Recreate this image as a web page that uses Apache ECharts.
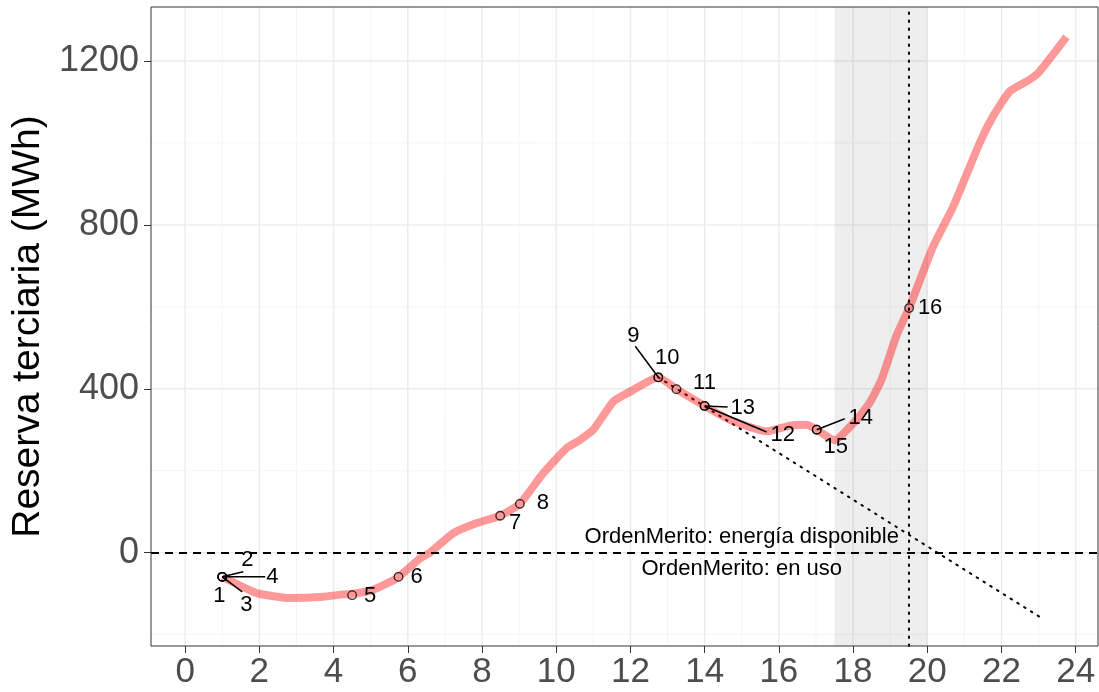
<!DOCTYPE html>
<html>
<head>
<meta charset="utf-8">
<script src="https://cdn.jsdelivr.net/npm/echarts@6/dist/echarts.min.js"></script>
<style>
html,body{margin:0;padding:0;background:#fff;}
#chart{width:1099px;height:692px;}
</style>
</head>
<body>
<div id="chart"></div>
<script>
// ---- data ----
const lineX = [1.0, 1.93, 2.83, 3.72, 4.26, 4.5, 5.06, 5.70, 6.33, 6.60, 7.22, 7.86, 8.49, 9.02, 9.65, 10.28, 10.64, 11.0, 11.54, 11.99, 12.75, 13.24, 14.0, 14.68, 15.67, 16.3, 16.75, 17.02, 17.5, 18.09, 18.45, 18.77, 19.17, 19.51, 20.16, 20.70, 21.41, 21.77, 22.22, 22.76, 23.03, 23.75];
const lineY = [-59, -99, -111, -108, -102, -101, -91, -63, -14, 0, 47, 72, 90, 119, 194, 255, 275, 300, 369, 393, 428, 399, 358, 324, 296, 310, 312, 300, 274, 324, 366, 423, 530, 597, 748, 845, 1000, 1065, 1126, 1155, 1175, 1259];

const pointLabels = ['1','2','3','4','5','6','7','8','9','10','11','12','13','14','15','16'];
const pointX = [1.0, 1.0, 1.0, 1.0, 4.5, 5.75, 8.49, 9.02, 12.75, 12.75, 13.24, 14.0, 14.0, 17.02, 17.02, 19.51];
const pointY = [-59, -59, -59, -59, -104, -59, 90, 119, 428, 428, 399, 358, 358, 300, 300, 597];

const trendX = [12.75, 23.03];
const trendY = [428, -157];

const vlineX = 19.5;
const bandX = [17.5, 20];
const hlineY = 0;

const annTexts = ['OrdenMerito: energía disponible', 'OrdenMerito: en uso'];
const annX = [15, 15];
const annY = [39, -40];

const xTicks = [0, 2, 4, 6, 8, 10, 12, 14, 16, 18, 20, 22, 24];
const xMinor = [1, 3, 5, 7, 9, 11, 13, 15, 17, 19, 21, 23];
const yTicks = [0, 400, 800, 1200];
const yMinor = [-200, 200, 600, 1000];

const xRange = [-0.92, 24.6];
const yRange = [-228, 1332];

// ---- styles (pixel offsets of repelled labels, and segment ends) ----
const labelOffsets = [[-3,19],[25,-17],[24,28],[50,0],[18,1],[18,0],[15,7],[23,-1],[-25,-41],[9,-19],[28,-6],[78,29],[38,2],[44,-12],[19,17],[21,0]];
const segEnds = [null,[21,-5],[20,15],[43,0],null,null,null,null,[-23,-31],null,null,[62,26],[23,1],[28,-11],null,null];

const FONT = '"Liberation Sans", Arial, Helvetica, sans-serif';

const chart = echarts.init(document.getElementById('chart'), null, {renderer: 'canvas'});

function gridRender(isX, major) {
  return function (params, api) {
    const cs = params.coordSys;
    const v = api.value(0);
    let p;
    const st = {stroke: major ? '#EBEBEB' : '#F2F2F2', lineWidth: major ? 1.4 : 0.8};
    if (isX) {
      p = api.coord([v, yRange[0]]);
      return {type: 'line', shape: {x1: p[0], y1: cs.y, x2: p[0], y2: cs.y + cs.height}, style: st};
    } else {
      p = api.coord([xRange[0], v]);
      return {type: 'line', shape: {x1: cs.x, y1: p[1], x2: cs.x + cs.width, y2: p[1]}, style: st};
    }
  };
}

const option = {
  backgroundColor: '#ffffff',
  animation: false,
  grid: {left: 151, right: 1, top: 7, bottom: 46, containLabel: false, outerBoundsMode: 'none',
    show: true, borderColor: '#333333', borderWidth: 1, backgroundColor: 'transparent', z: 10},
  xAxis: {
    type: 'value', min: xRange[0], max: xRange[1],
    axisLine: {show: false, onZero: false},
    splitLine: {show: false},
    axisTick: {show: true, length: 7, lineStyle: {color: '#333333', width: 1}, customValues: xTicks},
    axisLabel: {customValues: xTicks, formatter: v => String(v), fontSize: 35, color: '#4D4D4D', fontFamily: FONT, margin: 9}
  },
  yAxis: {
    type: 'value', min: yRange[0], max: yRange[1],
    name: 'Reserva terciaria (MWh)', nameLocation: 'middle', nameGap: 84, nameRotate: 90,
    nameTextStyle: {fontSize: 39, color: '#000000', fontFamily: FONT},
    axisLine: {show: false, onZero: false},
    splitLine: {show: false},
    axisTick: {show: true, length: 7, lineStyle: {color: '#333333', width: 1}, customValues: yTicks},
    axisLabel: {customValues: yTicks, formatter: v => String(v), fontSize: 36, color: '#4D4D4D', fontFamily: FONT, margin: 12}
  },
  series: [
    {type: 'custom', silent: true, z: 0, renderItem: gridRender(true, false), data: xMinor.map(v => [v]), clip: true},
    {type: 'custom', silent: true, z: 0, renderItem: gridRender(false, false), data: yMinor.map(v => [v]), clip: true},
    {type: 'custom', silent: true, z: 0, renderItem: gridRender(true, true), data: xTicks.map(v => [v]), clip: true},
    {type: 'custom', silent: true, z: 0, renderItem: gridRender(false, true), data: yTicks.map(v => [v]), clip: true},
    {
      type: 'line', data: [], z: 1, silent: true,
      markArea: {silent: true, itemStyle: {color: 'rgba(0,0,0,0.065)'}, data: [[{xAxis: bandX[0]}, {xAxis: bandX[1]}]]}
    },
    {
      type: 'line', z: 3, silent: true, symbol: 'none',
      data: trendX.map((x, i) => [x, trendY[i]]),
      lineStyle: {color: '#000000', width: 2, type: [1.6, 6.4], cap: 'round'}
    },
    {
      type: 'line', data: [], z: 3, silent: true,
      markLine: {silent: true, symbol: 'none', label: {show: false},
        data: [
          {yAxis: hlineY, lineStyle: {color: '#000000', width: 1.8, type: [8, 6]}},
          {xAxis: vlineX, lineStyle: {color: '#000000', width: 2, type: [1.6, 6.4], cap: 'round'}}
        ]}
    },
    {
      type: 'line', z: 4, silent: true, symbol: 'none', smooth: 0.15,
      data: lineX.map((x, i) => [x, lineY[i]]),
      lineStyle: {color: '#FF0000', opacity: 0.4, width: 8, join: 'round', cap: 'butt'}
    },
    {
      type: 'scatter', z: 5, silent: true, symbol: 'circle', symbolSize: 8.5,
      data: pointX.map((x, i) => [x, pointY[i]]),
      itemStyle: {color: 'rgba(0,0,0,0)', borderColor: '#000000', borderWidth: 1.3}
    },
    {
      type: 'custom', z: 6, silent: true,
      data: pointX.map((x, i) => [x, pointY[i], i]),
      renderItem: function (params, api) {
        const i = api.value(2);
        const p = api.coord([api.value(0), api.value(1)]);
        const off = labelOffsets[i];
        const children = [];
        const se = segEnds[i];
        if (se) {
          children.push({type: 'line', shape: {x1: p[0], y1: p[1], x2: p[0] + se[0], y2: p[1] + se[1]},
            style: {stroke: '#000000', lineWidth: 1.5}});
        }
        children.push({type: 'text', x: p[0] + off[0], y: p[1] + off[1],
          style: {text: pointLabels[i], fontSize: 22, fontFamily: FONT, fill: '#000000', align: 'center', verticalAlign: 'middle'}});
        return {type: 'group', children: children};
      }
    },
    {
      type: 'custom', z: 6, silent: true,
      data: annX.map((x, i) => [x, annY[i], i]),
      renderItem: function (params, api) {
        const p = api.coord([api.value(0), api.value(1)]);
        return {type: 'text', x: p[0], y: p[1],
          style: {text: annTexts[api.value(2)], fontSize: 22, fontFamily: FONT, fill: '#000000', align: 'center', verticalAlign: 'middle'}};
      }
    }
  ]
};
chart.setOption(option);
</script>
</body>
</html>
